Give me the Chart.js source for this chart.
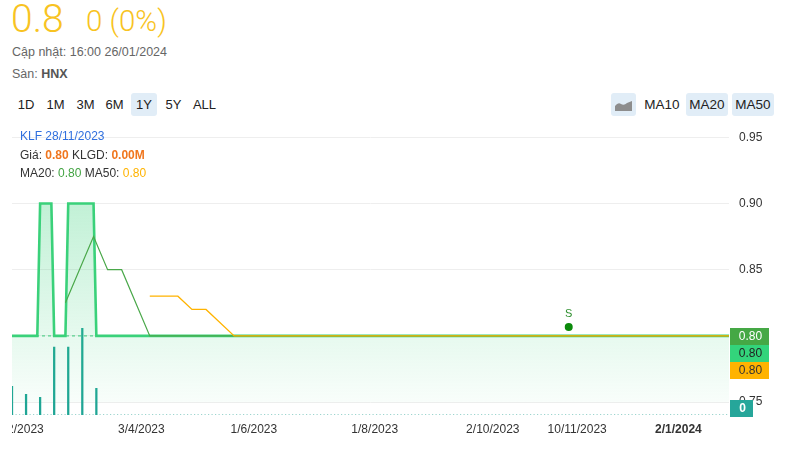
<!DOCTYPE html>
<html><head><meta charset="utf-8">
<script src="https://cdn.jsdelivr.net/npm/chart.js@4.4.1/dist/chart.umd.min.js"></script>
<style>
html,body{margin:0;padding:0;background:#fff;width:790px;height:453px;overflow:hidden;font-family:Arial,"Liberation Sans",sans-serif;}
.a{position:absolute;white-space:nowrap;}
#wrap{position:absolute;left:12px;top:120px;width:778px;height:333px;}
.btn{position:absolute;top:93px;height:23px;line-height:23px;font-size:13px;color:#222;text-align:center;border-radius:3px;}
.on{background:#e1edf7;}
</style></head><body>
<div class="a" style="left:11px;top:-4px;font-family:Roboto,Arial,sans-serif;font-weight:300;font-size:39px;color:#f8c322;">0.8</div>
<div class="a" style="left:86px;top:4px;font-family:Roboto,Arial,sans-serif;font-weight:300;font-size:29.5px;color:#f8c322;">0 (0%)</div>
<div class="a" style="left:12px;top:45px;font-size:12.5px;color:#666;">Cập nhật: 16:00 26/01/2024</div>
<div class="a" style="left:12px;top:67px;font-size:12.5px;color:#666;">Sàn: <b style="color:#555">HNX</b></div>
<div class="btn" style="left:15px;width:22px;">1D</div>
<div class="btn" style="left:44px;width:23px;">1M</div>
<div class="btn" style="left:74px;width:23px;">3M</div>
<div class="btn" style="left:103px;width:23px;">6M</div>
<div class="btn on" style="left:131px;width:26px;">1Y</div>
<div class="btn" style="left:162px;width:23px;">5Y</div>
<div class="btn" style="left:191px;width:27px;">ALL</div>
<div class="btn on" style="left:611px;width:25px;"><svg width="17" height="12" viewBox="0 0 17 12" style="margin-top:6px"><path d="M0 12 L0 7 Q3 3 6 5 Q9 7 12 4 L17 2 L17 12 Z" fill="#8d8d8d"/></svg></div>
<div class="btn" style="left:641px;width:42px;font-size:13.5px;">MA10</div>
<div class="btn on" style="left:686px;width:42px;font-size:13.5px;">MA20</div>
<div class="btn on" style="left:732px;width:42px;font-size:13.5px;">MA50</div>
<div id="wrap"><canvas id="c" width="778" height="333"></canvas></div>
<div class="a" style="left:20px;top:129px;font-size:12px;color:#2f6fde;">KLF 28/11/2023</div>
<div class="a" style="left:20px;top:148px;font-size:12px;color:#333;">Giá: <b style="color:#f0761e">0.80</b> KLGD: <b style="color:#f0761e">0.00M</b></div>
<div class="a" style="left:20px;top:166px;font-size:12px;color:#333;">MA20: <span style="color:#43a443">0.80</span> MA50: <span style="color:#ffb300">0.80</span></div>
<script>
// trading-day index (0 = 27/01/2023 ... 255 = 26/01/2024)
const priceIdx = [0, 9, 10, 14, 15, 19, 20, 29, 30, 255];
const priceVal = [0.80, 0.80, 0.90, 0.90, 0.80, 0.80, 0.90, 0.90, 0.80, 0.80];
const ma20Idx = [19, 29, 34, 39, 49, 255];
const ma20Val = [0.825, 0.875, 0.85, 0.85, 0.80, 0.80];
const ma50Idx = [49, 59, 64, 69, 79, 255];
const ma50Val = [0.83, 0.83, 0.82, 0.82, 0.80, 0.80];
const refIdx = [0, 255];
const refVal = [0.80, 0.80];
const volIdx = [0, 5, 10, 15, 20, 25, 30];
const volVal = [2900, 2100, 1800, 6900, 6900, 8800, 2700];
const sigIdx = [198];
const sigVal = [0.8067];
const sigText = ['S'];
const tickIdx = [3, 46, 86, 129, 171, 201, 237];
const tickLabels = ['1/2/2023', '3/4/2023', '1/6/2023', '1/8/2023', '2/10/2023', '10/11/2023', '2/1/2024'];
const yTicks = [0.75, 0.80, 0.85, 0.90, 0.95];

const pts = (xs, ys) => xs.map((x, i) => ({x: x, y: ys[i]}));
const ctx = document.getElementById('c').getContext('2d');

const extras = {
  id: 'extras',
  afterDatasetsDraw(chart) {
    const c = chart.ctx, xs = chart.scales.x, ys = chart.scales.y, vs = chart.scales.yv, ca = chart.chartArea;
    c.save();
    c.textAlign = 'center'; c.textBaseline = 'middle'; c.fillStyle = '#333';
    tickIdx.forEach((t, i) => {
      c.font = (i === tickIdx.length - 1 ? 'bold ' : '') + '12px Arial, "Liberation Sans", sans-serif';
      c.fillText(tickLabels[i], xs.getPixelForValue(t), 310);
    });
    c.fillStyle = '#2e8f2e'; c.font = '11px Arial, "Liberation Sans", sans-serif';
    sigIdx.forEach((s, i) => c.fillText(sigText[i], xs.getPixelForValue(s), ys.getPixelForValue(sigVal[i]) - 13));
    const badge = (y, txt, bg, fg, w, bold) => {
      c.fillStyle = bg;
      c.fillRect(ca.right + 1, Math.round(y - 8), w, 17);
      c.fillStyle = fg;
      c.font = (bold ? 'bold ' : '') + '12px Arial, "Liberation Sans", sans-serif';
      c.textAlign = 'center';
      c.fillText(txt, ca.right + 1 + w / 2 + 1, Math.round(y - 8) + 9);
    };
    const py = ys.getPixelForValue(ma20Val[ma20Val.length - 1]);
    badge(py, ma20Val[ma20Val.length - 1].toFixed(2), '#45a845', '#fff', 39, false);
    badge(py + 17, priceVal[priceVal.length - 1].toFixed(2), '#33d47b', '#222', 39, false);
    badge(py + 34, ma50Val[ma50Val.length - 1].toFixed(2), '#ffb300', '#333', 39, false);
    const vy = vs.getPixelForValue(0);
    badge(vy - 7, '0', '#26a69a', '#fff', 23, true);
    c.restore();
  }
};

new Chart(ctx, {
  data: {
    datasets: [
      {
        type: 'line', label: 'MA50', data: pts(ma50Idx, ma50Val), yAxisID: 'y',
        borderColor: '#ffb300', borderWidth: 1.3, pointRadius: 0, fill: false, order: 0, tension: 0
      },
      {
        type: 'line', label: 'MA20', data: pts(ma20Idx, ma20Val), yAxisID: 'y',
        borderColor: '#4aa84a', borderWidth: 1.2, pointRadius: 0, fill: false, order: 1, tension: 0
      },
      {
        type: 'line', label: 'S', data: pts(sigIdx, sigVal), yAxisID: 'y', showLine: false,
        pointRadius: 4, pointBackgroundColor: '#0b8a0b', pointBorderWidth: 0, order: 1
      },
      {
        type: 'line', label: 'Giá', data: pts(priceIdx, priceVal), yAxisID: 'y',
        borderColor: '#3ad17a', borderWidth: 2.6, pointRadius: 0, tension: 0, order: 2,
        fill: {value: 0.75},
        backgroundColor: (c) => {
          const ch = c.chart; if (!ch.chartArea) return 'rgba(52,208,120,0.15)';
          const y = ch.scales.y;
          const g = ch.ctx.createLinearGradient(0, y.getPixelForValue(0.90), 0, y.getPixelForValue(0.75));
          g.addColorStop(0, 'rgba(52,208,120,0.30)');
          g.addColorStop(1, 'rgba(52,208,120,0.03)');
          return g;
        }
      },
      {
        type: 'line', label: 'ref', data: pts(refIdx, refVal), yAxisID: 'y',
        borderColor: '#3ac97a', borderWidth: 1, borderDash: [3, 3], pointRadius: 0, fill: false, order: 3
      },
      {
        type: 'bar', label: 'KLGD', data: pts(volIdx, volVal), yAxisID: 'yv',
        backgroundColor: '#1fa595', barThickness: 1.6, order: 4
      },
      {
        type: 'line', label: 'base', data: pts(refIdx, [0, 0]), yAxisID: 'yv',
        borderColor: '#3aa99d', borderWidth: 1.2, borderDash: [1.2, 2.3], pointRadius: 0, fill: false, order: 5
      }
    ]
  },
  options: {
    responsive: false, animation: false, events: [],
    layout: {autoPadding: false, padding: {top: 13, bottom: 38, left: 0, right: 0}},
    plugins: {legend: {display: false}, tooltip: {enabled: false}},
    scales: {
      x: {type: 'linear', min: 0, max: 255, offset: false, display: false},
      y: {
        position: 'right', min: 0.7403, max: 0.95,
        afterBuildTicks: (s) => { s.ticks = yTicks.map(v => ({value: v})); },
        afterFit: (s) => { s.width = 61; },
        grid: {color: '#eeeeee', drawTicks: false, lineWidth: 1},
        border: {display: false},
        ticks: {padding: 10, color: '#333', font: {size: 12, family: 'Arial, "Liberation Sans", sans-serif'}, callback: (v) => Number(v).toFixed(2)}
      },
      yv: {position: 'right', min: 0, max: 28200, display: false}
    }
  },
  plugins: [extras]
});
</script>
</body></html>
